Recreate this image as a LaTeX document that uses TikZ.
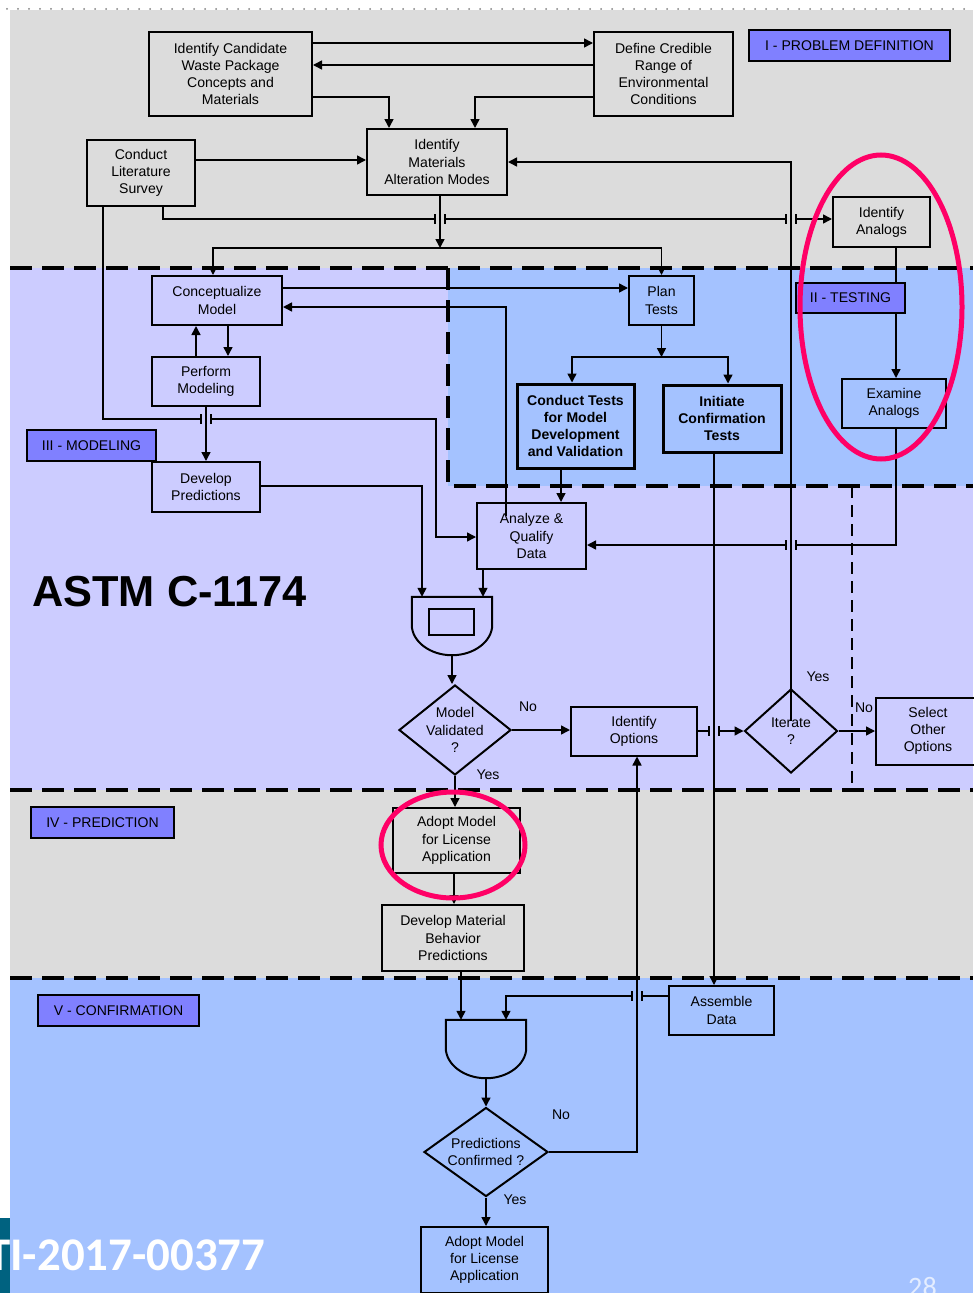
\documentclass[tikz,border=0pt]{standalone}
\usepackage{fontspec}
\setmainfont{Liberation Sans}
\newfontfamily\idfont{Carlito}
\usepackage{xcolor}
\usepackage{tikz}
\usetikzlibrary{arrows.meta,positioning,shapes.geometric,calc}

\definecolor{bgGray}{RGB}{220,220,220}
\definecolor{bgLav}{RGB}{204,204,255}
\definecolor{bgBlue}{RGB}{164,194,255}
\definecolor{tagBlue}{RGB}{128,128,255}
\definecolor{ringRed}{RGB}{255,0,102}
\definecolor{tealBar}{RGB}{0,98,128}

\begin{document}
\begin{tikzpicture}[x=0.3mm, y=-0.3mm,
  font=\fontsize{12}{14.7}\selectfont,
  box/.style 2 args={rectangle, draw=black, line width=0.6mm, align=center, inner sep=0pt, minimum width=#1, minimum height=#2},
  boldbox/.style 2 args={box={#1}{#2}, line width=0.9mm, font=\fontsize{12}{14.7}\selectfont\bfseries},
  tag/.style={rectangle, draw=black, line width=0.6mm, fill=tagBlue, inner sep=0pt, minimum width=#1, minimum height=9.3mm},
  decision/.style 2 args={diamond, draw=black, line width=0.6mm, inner sep=0pt, minimum width=#1, minimum height=#2},
  merge/.style={rectangle, inner sep=0pt, minimum width=24mm, minimum height=17.4mm},
  conn/.style={draw, line width=0.45mm},
  line/.style={conn, -{Triangle[length=2.7mm, width=2.7mm]}},
  sep/.style={line width=1.2mm, dash pattern=on 6.6mm off 3mm},
  ring/.style={draw=ringRed, line width=1.5mm},
  note/.style={inner sep=0pt}]

  \useasboundingbox (0,0) rectangle (973,1293);

  % Bands
  \fill[bgGray] (10,10) rectangle (973,268);
  \fill[bgLav] (10,268) rectangle (973,790);
  \fill[bgBlue] (448,268) rectangle (973,486);
  \fill[bgGray] (10,790) rectangle (973,978);
  \fill[bgBlue] (10,978) rectangle (973,1293);
  \fill[tealBar] (0,1218) rectangle (10,1293);
  \draw[gray, line width=0.6mm, dash pattern=on 0pt off 3.3mm, line cap=round] (7,9) -- (973,9);

  \draw[sep] (10,268) -- (973,268);
  \draw[sep] (10,790) -- (973,790);
  \draw[sep] (10,978) -- (973,978);
  \draw[sep] (448,268) -- (448,486) -- (973,486);
  \draw[line width=0.6mm, dash pattern=on 3.6mm off 2.1mm] (852,486) -- (852,790);

  % I - Problem definition
  \node[box={48.9mm}{25.2mm}] (cand) at (230.5,74) {Identify Candidate\\Waste Package\\Concepts and\\Materials};
  \node[box={41.7mm}{25.2mm}] (env) at (663.5,74) {Define Credible\\Range of\\Environmental\\Conditions};
  \node[box={32.4mm}{19.8mm}] (lit) at (141,173) {Conduct\\Literature\\Survey};
  \node[box={42mm}{19.8mm}] (alt) at (437,162) {Identify\\Materials\\Alteration Modes};
  \node[box={29.1mm}{15mm}] (anal) at (881.5,222) {Identify\\Analogs};

  % II - Testing
  \node[box={19.5mm}{14.7mm}] (plan) at (661.5,300.5) {Plan\\Tests};
  \node[boldbox={35.1mm}{25.2mm}] (conduct) at (575.5,426) {Conduct Tests\\for Model\\Development\\and Validation};
  \node[boldbox={35.4mm}{20.1mm}] (initiate) at (722,418.5) {Initiate\\Confirmation\\Tests};
  \node[box={31.2mm}{14.7mm}] (examine) at (894,403.5) {Examine\\Analogs};

  % III - Modeling
  \node[box={39mm}{14.7mm}] (concept) at (217,300.5) {Conceptualize\\Model};
  \node[box={32.4mm}{14.7mm}] (perform) at (206,381.5) {Perform\\Modeling};
  \node[box={32.4mm}{15mm}] (devpred) at (206,487) {Develop\\Predictions};
  \node[box={32.7mm}{19.8mm}] (analyze) at (531.5,536) {Analyze \&\\Qualify\\Data};
  \node[merge] (merge1) at (452,626) {};
  \node[decision={33.6mm}{27mm}, label={[align=center]center:Model\\Validated\\?}] (valid) at (455,730) {};
  \node[box={37.8mm}{14.7mm}] (options) at (634,731) {Identify\\Options};
  \node[decision={27.9mm}{25.2mm}, label={[align=center]center:Iterate\\?}] (iterate) at (791,731) {};
  \node[box={31.2mm}{20.1mm}] (select) at (928,731) {Select\\Other\\Options};

  % IV - Prediction
  \node[box={38.1mm}{19.5mm}] (adopt1) at (456.5,840.5) {Adopt Model\\for License\\Application};
  \node[box={42.6mm}{19.8mm}] (devmat) at (453,938) {Develop Material\\Behavior\\Predictions};

  % V - Confirmation
  \node[box={31.5mm}{14.7mm}] (assemble) at (721.5,1010.5) {Assemble\\Data};
  \node[merge] (merge2) at (486,1049) {};
  \node[decision={37.2mm}{26.7mm}, label={[align=center]center:Predictions\\Confirmed ?}] (confirmed) at (486,1152) {};
  \node[box={38.1mm}{19.8mm}] (adopt2) at (484.5,1260) {Adopt Model\\for License\\Application};

  % Merge outlines
  \draw[line width=0.6mm] (merge1.north west) -- (merge1.north east) -- ++(0,28)
    .. controls +(0,16.6) and +(22,0) .. (merge1.south)
    .. controls +(-22,0) and +(0,16.6) .. ($(merge1.north west)+(0,28)$) -- cycle;
  \draw[line width=0.6mm] ($(merge1)+(-23,-17)$) rectangle ($(merge1)+(22,9)$);
  \draw[line width=0.6mm] (merge2.north west) -- (merge2.north east) -- ++(0,28)
    .. controls +(0,16.6) and +(22,0) .. (merge2.south)
    .. controls +(-22,0) and +(0,16.6) .. ($(merge2.north west)+(0,28)$) -- cycle;

  \coordinate (split1) at (440,248);
  \coordinate (split2) at (plan.south |- 0,357);

  % Connectors
  \path[line] (cand.east |- 0,43) -- (env.west |- 0,43);
  \path[line] (env.west |- 0,65) -- (cand.east |- 0,65);
  \path[line] (cand.east |- 0,97) -| (alt.north -| 389,0);
  \path[line] (env.west |- 0,97) -| (alt.north -| 475,0);
  \path[line] (lit.east |- 0,160) -- (alt.west |- 0,160);
  \path[line] (lit.south -| 163,0) |- (anal.west |- 0,219);
  \path[line] (split1) -| (concept.north -| 213,0);
  \path[line] (split1) -| (plan.north);
  \path[line] (lit.south -| 103,0) |- (436,419) |- (analyze.west |- 0,537);
  \path[line] (perform.north -| 196,0) -- (concept.south -| 196,0);
  \path[line] (concept.south -| 228,0) -- (perform.north -| 228,0);
  \path[line] (concept.east |- 0,288) -- (plan.west |- 0,288);
  \path[line] ($(analyze.north -| 506,0)+(0,14)$) |- (concept.east |- 0,307);
  \path[line] (plan.south) -- (split2);
  \path[line] (split2) -| (conduct.north -| 572,0);
  \path[line] (split2) -| (initiate.north -| 728,0);
  \path[line] (conduct.south -| 561,0) -- (analyze.north -| 561,0);
  \path[line] (anal.south -| 896,0) -- (examine.north -| 896,0);
  \path[line] (examine.south -| 896,0) |- (analyze.east |- 0,545);
  \path[line] (devpred.east |- 0,486) -| (merge1.north -| 422,0);
  \path[line] (analyze.south -| 483,0) -- (merge1.north -| 483,0);
  \path[line] (merge1.south) -- (valid.north -| merge1.south);
  \path[line] (valid.east) -- (options.west |- valid.east);
  \path[line] (options.east) -- (iterate.west);
  \path[line] (iterate.east) -- (select.west |- iterate.east);
  \path[line] (valid.south) -- (adopt1.north -| valid.south);
  \path[line] (adopt1.south -| 454,0) -- (devmat.north -| 454,0);
  \path[line] (devmat.south -| 461,0) -- (merge2.north -| 461,0);
  \path[line] (assemble.west |- 0,996) -| (merge2.north -| 506,0);
  \path[line] (merge2.south) -- (confirmed.north);
  \path[line] (confirmed.south) -- (adopt2.north -| confirmed.south);

  % Line hops
  \foreach \hx/\hy/\hc in {440/219/bgGray, 791/219/bgGray, 206/419/bgLav, 714/731/bgLav, 791/545/bgLav, 637/996/bgBlue} {
    \fill[\hc] (\hx-5,\hy-1.5) rectangle (\hx+5,\hy+1.5);
    \draw[conn] (\hx-5,\hy-5) -- (\hx-5,\hy+5) (\hx+5,\hy-5) -- (\hx+5,\hy+5);
  }

  % Crossing verticals
  \path[line] (alt.south -| split1) -- (split1);
  \path[line] ($(iterate.center)+(0,-10)$) |- (alt.east);
  \path[line] (perform.south) -- (devpred.north);
  \path[line] (initiate.south -| 714,0) -- (assemble.north -| 714,0);
  \path[line] (confirmed.east) -| (options.south -| 637,0);

  % Branch labels
  \node[note] (no1) at (528,707) {No};
  \node[note] (yes1) at (488,775) {Yes};
  \node[note] (yes2) at (818,677) {Yes};
  \node[note] (no2) at (864,708) {No};
  \node[note] (no3) at (561,1115) {No};
  \node[note] (yes3) at (515,1200) {Yes};

  % Phase tags
  \node[tag=60.3mm] (tagdef) at (849.5,45.5) {I - PROBLEM DEFINITION};
  \node[tag=32.7mm, minimum height=9mm] (tagtest) at (850.5,298) {II - TESTING};
  \node[tag=38.7mm] (tagmod) at (91.5,445.5) {III - MODELING};
  \node[tag=42.9mm] (tagpred) at (102.5,822.5) {IV - PREDICTION};
  \node[tag=48.3mm] (tagconf) at (118.5,1010.5) {V - CONFIRMATION};

  \node[note, anchor=base west, font=\fontsize{37}{40}\selectfont\bfseries] (astm) at (32,606) {ASTM C-1174};
  \node[note, anchor=base west, text=white, font=\idfont\bfseries\fontsize{40}{44}\selectfont] (docid) at (-13,1270) {TI-2017-00377};
  \node[note, anchor=base west, text=white!70!bgBlue, font=\idfont\fontsize{24}{28}\selectfont] (pageno) at (908,1296) {28};

  % Highlight rings
  \draw[ring] (881,307) ellipse [x radius=24.3mm, y radius=45.6mm];
  \draw[ring] (453,845) ellipse [x radius=21.6mm, y radius=15.9mm];
\end{tikzpicture}
\end{document}
